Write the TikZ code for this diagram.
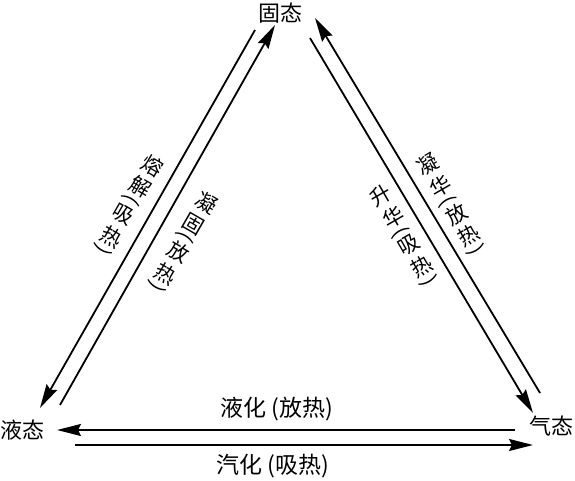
\documentclass[tikz,border=0pt]{standalone}
\usepackage{fontspec}
\usepackage{graphicx}
\setmainfont{Noto Sans CJK SC}
\usetikzlibrary{arrows.meta}
\tikzset{
  arr/.style={line width=1.8pt, -{Stealth[length=24pt,width=12pt,inset=3pt]}},
  lbl/.style={font=\fontsize{22}{22}\selectfont, inner sep=0pt},
  vlbl/.style={font=\fontsize{21}{21}\selectfont, inner sep=0pt},
}
% one character of a slanted vertical label
\newcommand\vchr[1]{\makebox[25pt]{\rotatebox[origin=c]{90}{#1}}}
\newcommand\vpar[1]{\makebox[7pt]{#1}}
% #1 name, #2 centre of first character, #3 reading direction, #4-#7 characters
\newcommand\vlab[7]{%
  \begin{scope}[shift={#2}, rotate=#3]
    \node[vlbl, rotate=#3] (#1) at (44.5,0)
      {\vchr{#4}\vchr{#5}\vpar{(}\vchr{#6}\vchr{#7}\vpar{)}};
  \end{scope}}
\begin{document}
\begin{tikzpicture}[x=1pt,y=1pt]
  \useasboundingbox (0,0) rectangle (575,-481);
  % state labels
  \node[lbl] (solid) at (280,-13) {固态};
  \node[lbl] (liquid) at (23,-430) {液态};
  \node[lbl] (gas) at (551,-426) {气态};
  % line end points
  \coordinate (L1t) at (255,-30);
  \coordinate (L1b) at (40,-408);
  \coordinate (L2b) at (60,-405);
  \coordinate (L2t) at (275,-25);
  \coordinate (R1b) at (540,-393);
  \coordinate (R1t) at (315,-18);
  \coordinate (R2t) at (310,-38);
  \coordinate (R2b) at (533,-413);
  \coordinate (H1r) at (515,-430);
  \coordinate (H1l) at (57,-430);
  \coordinate (H2l) at (75,-445);
  \coordinate (H2r) at (533,-445);
  % arrows
  \draw[arr] (L1t) -- (L1b);
  \draw[arr] (L2b) -- (L2t);
  \draw[arr] (R1b) -- (R1t);
  \draw[arr] (R2t) -- (R2b);
  \draw[arr] (H1r) -- (H1l);
  \draw[arr] (H2l) -- (H2r);
  % process labels
  \vlab{melt}{(152,-165)}{-120}{熔}{解}{吸}{热}
  \vlab{freeze}{(206,-202)}{-120}{凝}{固}{放}{热}
  \vlab{depo}{(427,-165)}{-60}{凝}{华}{放}{热}
  \vlab{subl}{(380,-196)}{-60}{升}{华}{吸}{热}
  \node[lbl, font=\fontsize{23}{23}\selectfont] (cond) at (277,-409) {液化 (放热)};
  \node[lbl, font=\fontsize{23}{23}\selectfont] (vap) at (273,-466) {汽化 (吸热)};
\end{tikzpicture}
\end{document}
